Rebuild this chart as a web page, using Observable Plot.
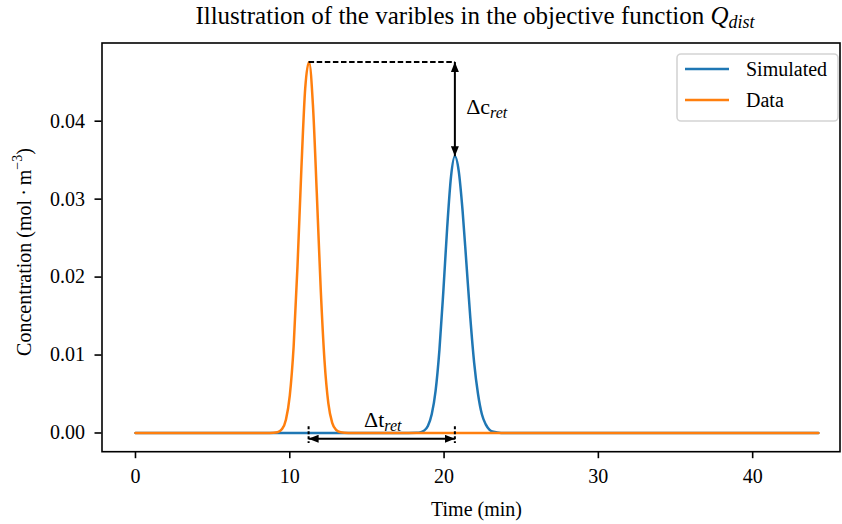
<!DOCTYPE html>
<html><head><meta charset="utf-8">
<script src="https://cdn.jsdelivr.net/npm/d3@7"></script>
<script src="https://cdn.jsdelivr.net/npm/@observablehq/plot@0.6"></script>
<style>
body{margin:0;background:#fff}
svg{font-family:"Liberation Serif","Times New Roman",serif}
</style>
</head><body><div id="chart"></div>
<script>
// ---- data ----
const simTime = [0, 17.7, 18.2, 18.45, 18.7, 18.95, 19.2, 19.45, 19.7, 19.95, 20.2, 20.45, 20.7, 20.95, 21.2, 21.45, 21.7, 21.95, 22.2, 22.45, 22.7, 22.95, 23.2, 23.7, 44.26];
const simConc = [0, 0, 0.00002, 0.00008, 0.0003, 0.0009, 0.0024, 0.0054, 0.0107, 0.0181, 0.0263, 0.0329, 0.0355, 0.0336, 0.0285, 0.0217, 0.0148, 0.0090, 0.0050, 0.0024, 0.0011, 0.0004, 0.00015, 0.00001, 0];
const dataTime = [0, 8.7, 9.2, 9.5, 9.75, 10.0, 10.25, 10.5, 10.75, 11.0, 11.25, 11.5, 11.75, 12.0, 12.25, 12.5, 12.75, 13.0, 13.3, 13.8, 44.26];
const dataConc = [0, 0, 0.0001, 0.0005, 0.0017, 0.0048, 0.0111, 0.0214, 0.0338, 0.0442, 0.0476, 0.0421, 0.0308, 0.0187, 0.0093, 0.0038, 0.0013, 0.0004, 0.0001, 0, 0];
const seriesNames = ["Simulated", "Data"];
const seriesColors = ["#1f77b4", "#ff7f0e"];
const xTicks = [0, 10, 20, 30, 40];
const yTicks = [0, 0.01, 0.02, 0.03, 0.04];
const tRetData = 11.22, tRetSim = 20.7;
const cMaxData = 0.0476, cMaxSim = 0.0355;
const titleText = "Illustration of the varibles in the objective function ";
const xLabel = "Time (min)";
const yLabel = "Concentration (mol\u2009·\u2009m";

// ---- build ----
const sim = simTime.map((t, i) => ({t, c: simConc[i]}));
const dat = dataTime.map((t, i) => ({t, c: dataConc[i]}));

const plot = Plot.plot({
  width: 842, height: 524,
  marginLeft: 101.5, marginRight: 2.5, marginTop: 42.5, marginBottom: 72.8,
  style: {fontFamily: "'Liberation Serif', serif", fontSize: "20px", background: "white", color: "black", overflow: "visible"},
  x: {domain: [-2.17, 45.66]},
  y: {domain: [-0.0024, 0.05003]},
  marks: [
    Plot.axisX({ticks: xTicks, tickSize: 7, tickPadding: 10, strokeWidth: 1.6, fontSize: 20, label: null}),
    Plot.axisY({ticks: yTicks, tickSize: 7, tickPadding: 10, strokeWidth: 1.6, fontSize: 20, label: null, tickFormat: d3.format(".2f")}),
    Plot.line(sim, {x: "t", y: "c", stroke: seriesColors[0], strokeWidth: 2.5, curve: "monotone-x"}),
    Plot.line(dat, {x: "t", y: "c", stroke: seriesColors[1], strokeWidth: 2.5, curve: "monotone-x"}),
    Plot.link([{x1: tRetData, x2: tRetSim, y: cMaxData}], {x1: "x1", x2: "x2", y1: "y", y2: "y", stroke: "black", strokeWidth: 2, strokeDasharray: "5.5,2.6"}),
    Plot.link([{x: tRetSim, y1: cMaxData, y2: cMaxSim}], {x1: "x", x2: "x", y1: "y1", y2: "y2", stroke: "black", strokeWidth: 2}),
    Plot.link([{x1: tRetData, x2: tRetSim, y: -0.00074}], {x1: "x1", x2: "x2", y1: "y", y2: "y", stroke: "black", strokeWidth: 2}),
    Plot.ruleX([tRetData, tRetSim], {y1: 0.0008, y2: -0.00135, stroke: "black", strokeWidth: 2, strokeDasharray: "3,2"}),
    Plot.text([{x: 21.43, y: 0.04097}], {x: "x", y: "y", text: () => "Δc", textAnchor: "start", lineAnchor: "bottom", fontSize: 22, fill: "black"}),
    Plot.text([{x: 14.81, y: 0.00075}], {x: "x", y: "y", text: () => "Δt", textAnchor: "start", lineAnchor: "bottom", fontSize: 22, fill: "black"}),
    Plot.frame({stroke: "black", strokeWidth: 1.6})
  ]
});

const svg = d3.select(plot);
// arrow head marker
const defs = svg.append("defs");
defs.append("marker").attr("id", "ahead")
  .attr("viewBox", "0 0 10 8").attr("refX", 10).attr("refY", 4)
  .attr("markerWidth", 10).attr("markerHeight", 8)
  .attr("markerUnits", "userSpaceOnUse").attr("orient", "auto-start-reverse")
  .append("path").attr("d", "M0,0L10,4L0,8Z").attr("fill", "black");
const linkGroups = svg.selectAll('g[aria-label="link"]').nodes();
linkGroups.slice(1, 3).forEach(g => {
  d3.select(g).selectAll("path").attr("marker-start", "url(#ahead)").attr("marker-end", "url(#ahead)");
});

// subscripts
svg.selectAll('g[aria-label="text"] text').each(function() {
  d3.select(this).append("tspan").attr("font-style", "italic").attr("font-size", 16).attr("dy", 4).text("ret");
});

// title
const title = svg.append("text").attr("x", 475).attr("y", 23.5).attr("text-anchor", "middle")
  .attr("font-size", 25).attr("fill", "black");
title.append("tspan").text(titleText);
title.append("tspan").attr("font-style", "italic").text("Q");
title.append("tspan").attr("font-style", "italic").attr("font-size", 18).attr("dy", 4).text("dist");

// x label
svg.append("text").attr("x", 476.5).attr("y", 516).attr("text-anchor", "middle")
  .attr("font-size", 20).attr("fill", "black").text(xLabel);

// y label
const yl = svg.append("text").attr("transform", `translate(30.5,252) rotate(-90)`).attr("text-anchor", "middle")
  .attr("font-size", 20).attr("fill", "black");
yl.append("tspan").text(yLabel);
yl.append("tspan").attr("font-size", 14).attr("dy", -9).text("−3");
yl.append("tspan").attr("dy", 9).text(")");

// legend
const lg = svg.append("g").attr("text-anchor", "start");
lg.append("rect").attr("x", 677).attr("y", 54).attr("width", 161).attr("height", 67).attr("rx", 4)
  .attr("fill", "white").attr("fill-opacity", 0.8).attr("stroke", "#d4d4d4").attr("stroke-width", 1.6);
seriesNames.forEach((name, i) => {
  const y = 69 + i * 31;
  lg.append("line").attr("x1", 685).attr("x2", 729).attr("y1", y).attr("y2", y)
    .attr("stroke", seriesColors[i]).attr("stroke-width", 2.5);
  lg.append("text").attr("x", 746).attr("y", y + 7).attr("text-anchor", "start").attr("font-size", 20).attr("fill", "black").text(name);
});

document.getElementById("chart").appendChild(plot);
</script>
</body></html>
